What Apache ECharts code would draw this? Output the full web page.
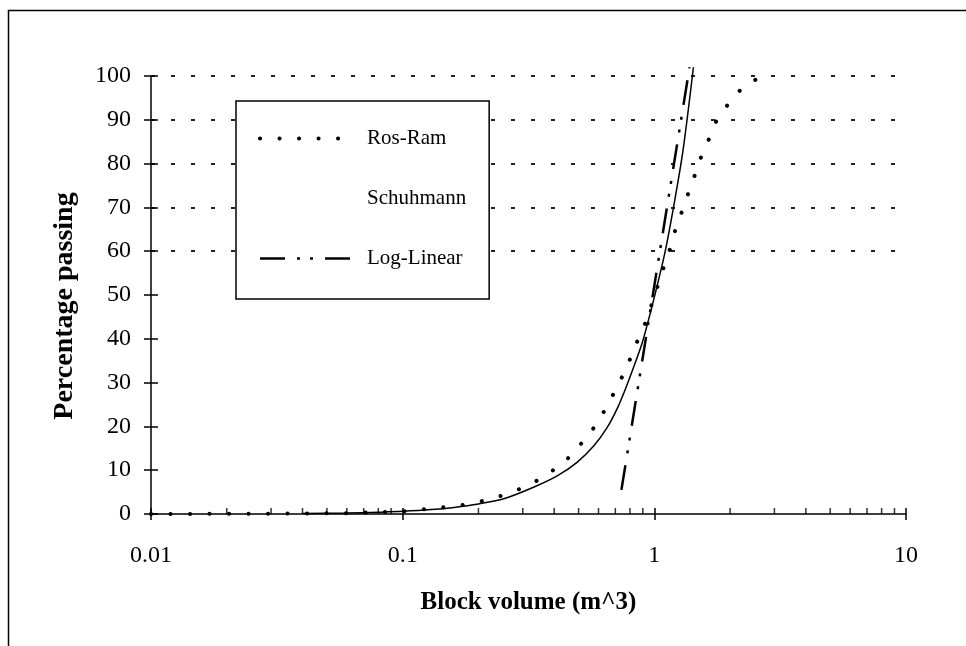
<!DOCTYPE html>
<html>
<head>
<meta charset="utf-8">
<title>Block volume distribution</title>
<script src="https://cdn.jsdelivr.net/npm/echarts@6/dist/echarts.min.js"></script>
<style>
  html, body { margin: 0; padding: 0; background: #fff; }
  #chart { width: 966px; height: 646px; }
</style>
</head>
<body>
<div id="chart"></div>
<script>
// Values: [block volume (m^3), percentage passing]
const rosRam = [
  [0.01, 0], [0.02, 0.05], [0.04, 0.1], [0.06, 0.2], [0.08, 0.4], [0.1, 0.6],
  [0.118, 1.0], [0.139, 1.4], [0.148, 1.6], [0.175, 2.1], [0.197, 2.6], [0.233, 3.8],
  [0.248, 4.2], [0.291, 5.7], [0.347, 7.8], [0.401, 10.2], [0.452, 12.6], [0.502, 15.5],
  [0.553, 18.3], [0.604, 21.5], [0.653, 24.9], [0.702, 28.4], [0.755, 32.0], [0.803, 35.5],
  [0.854, 39.3], [0.913, 43.0], [0.985, 48.5], [1.06, 54.2], [1.106, 57.5], [1.16, 60.8],
  [1.20, 64.1], [1.25, 67.1], [1.31, 70.2], [1.36, 73.0], [1.41, 75.6], [1.47, 78.3],
  [1.51, 80.7], [1.57, 82.6], [1.62, 84.6], [1.67, 86.3], [1.71, 88.1], [1.76, 89.6],
  [1.82, 91.1], [1.88, 92.2], [2.13, 96.0], [2.33, 98.3], [2.56, 99.3]
]
const schuhmann = [
  [0.04, 0.1], [0.06, 0.2], [0.08, 0.4], [0.1, 0.6], [0.13, 1.0], [0.16, 1.5],
  [0.2, 2.3], [0.256, 3.6], [0.331, 6.1], [0.411, 8.7], [0.493, 11.8], [0.574, 15.5],
  [0.649, 19.7], [0.711, 24.0], [0.767, 28.5], [0.827, 33.5], [0.894, 39.0], [0.95, 44.5],
  [1.0, 49.5], [1.1, 59.5], [1.2, 71.0], [1.3, 83.0], [1.43, 102]
]
const logLinear = [[0.74, 5.5], [1.38, 102]]

const xTickLabels = ['0.01', '0.1', '1', '10']
const xMinorTicks = [
  0.02, 0.03, 0.04, 0.05, 0.06, 0.07, 0.08, 0.09,
  0.2, 0.3, 0.4, 0.5, 0.6, 0.7, 0.8, 0.9,
  2, 3, 4, 5, 6, 7, 8, 9
]
const yTicks = [0, 10, 20, 30, 40, 50, 60, 70, 80, 90, 100]
const gridLevels = [60, 70, 80, 90, 100]   // dotted gridlines survive only here in the scan

const FONT = 'Liberation Serif'
const DOTS = [0.1, 19.4]
const DASH_DOT_DOT = [25, 12, 3, 10, 3, 12]

const chart = echarts.init(document.getElementById('chart'))

const xBase = {
  type: 'log',
  logBase: 10,
  min: 0.01,
  max: 10,
  position: 'bottom',
  splitLine: { show: false }
}
const yBase = {
  type: 'value',
  min: 0,
  max: 100,
  interval: 10,
  position: 'left',
  splitLine: { show: false }
}

chart.setOption({
  backgroundColor: '#fff',
  animation: false,
  grid: { left: 151, right: 60, top: 76, bottom: 132 },
  graphic: [{
    type: 'polyline',
    shape: { points: [[8.5, 646], [8.5, 10.5], [966, 10.5]] },
    style: { stroke: '#000', lineWidth: 1.5, fill: null },
    silent: true
  }],
  legend: {
    orient: 'vertical',
    left: 236,
    top: 101,
    padding: [27, 23, 30, 22],
    itemWidth: 97,
    itemHeight: 20,
    itemGap: 39,
    backgroundColor: '#fff',
    borderColor: '#000',
    borderWidth: 1.5,
    borderRadius: 0,
    itemStyle: { opacity: 0 },
    textStyle: { fontFamily: FONT, fontSize: 21, color: '#000', padding: [0, 0, 0, 5] },
    data: [
      { name: 'Ros-Ram', lineStyle: { color: '#000', width: 4, type: DOTS, cap: 'round' } },
      { name: 'Schuhmann', lineStyle: { opacity: 0 } },
      { name: 'Log-Linear', lineStyle: { color: '#000', width: 2.5, type: DASH_DOT_DOT } }
    ]
  },
  xAxis: [
    Object.assign({}, xBase, {
      axisLine: { lineStyle: { color: '#000', width: 1.5 } },
      axisTick: { show: true, length: 6, lineStyle: { color: '#000', width: 1.5 } },
      axisLabel: {
        margin: 30,
        fontFamily: FONT,
        fontSize: 24,
        color: '#000',
        formatter: v => xTickLabels[Math.round(Math.log10(v)) + 2]
      },
      name: 'Block volume (m^3)',
      nameLocation: 'middle',
      nameGap: 76,
      nameTextStyle: { fontFamily: FONT, fontSize: 25, fontWeight: 'bold', color: '#000' }
    }),
    // overlay so major ticks cross the axis line
    Object.assign({}, xBase, {
      axisLine: { show: false },
      axisTick: { show: true, inside: true, length: 6, lineStyle: { color: '#000', width: 1.5 } },
      axisLabel: { show: false }
    })
  ],
  yAxis: [
    Object.assign({}, yBase, {
      axisLine: { show: true, lineStyle: { color: '#000', width: 1.5 } },
      axisTick: { show: true, length: 7, lineStyle: { color: '#000', width: 1.5 } },
      axisLabel: { margin: 20, fontFamily: FONT, fontSize: 24, color: '#000' },
      splitLine: {
        show: true,
        lineStyle: {
          color: yTicks.map(v => gridLevels.includes(v) ? '#222' : 'rgba(0,0,0,0)'),
          width: 2,
          type: [4, 16]
        }
      },
      name: 'Percentage passing',
      nameLocation: 'middle',
      nameGap: 72,
      nameTextStyle: {
        fontFamily: FONT, fontSize: 28, fontWeight: 'bold', color: '#000',
        padding: [0, 22, 0, 0]
      }
    }),
    Object.assign({}, yBase, {
      axisLine: { show: false },
      axisTick: { show: true, inside: true, length: 7, lineStyle: { color: '#000', width: 1.5 } },
      axisLabel: { show: false }
    })
  ],
  series: [
    {
      name: 'Ros-Ram',
      type: 'line',
      data: rosRam,
      symbol: 'none',
      clip: false,
      itemStyle: { color: '#000' },
      lineStyle: { color: '#000', width: 4, type: DOTS, cap: 'round' }
    },
    {
      name: 'Schuhmann',
      type: 'line',
      data: schuhmann,
      symbol: 'none',
      smooth: 0.3,
      clip: false,
      itemStyle: { color: '#000' },
      lineStyle: { color: '#000', width: 1.5 }
    },
    {
      name: 'Log-Linear',
      type: 'line',
      data: logLinear,
      symbol: 'none',
      clip: false,
      itemStyle: { color: '#000' },
      lineStyle: { color: '#000', width: 2.5, type: DASH_DOT_DOT }
    },
    {
      // minor ticks on the log axis (2..9 in each decade), pointing up
      name: 'minor',
      type: 'scatter',
      data: xMinorTicks.map(v => [v, 0]),
      symbol: 'rect',
      symbolSize: [1.5, 6],
      symbolOffset: [0, -3],
      clip: false,
      silent: true,
      itemStyle: { color: '#000' },
      z: 3
    }
  ]
})
</script>
</body>
</html>
